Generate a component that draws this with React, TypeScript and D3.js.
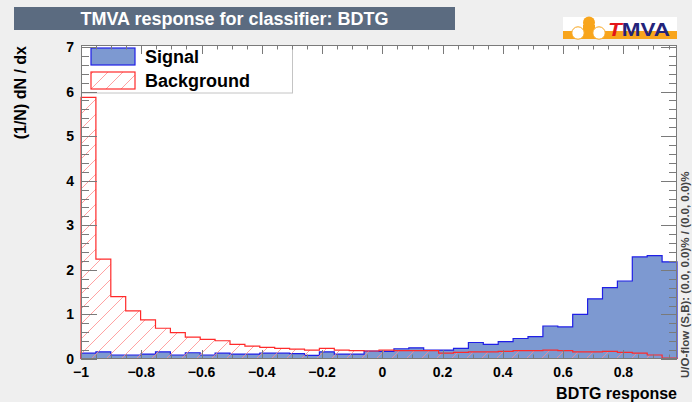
import React from "react";
import * as d3 from "d3";

// BDTG classifier response, 40 bins, normalised (1/N) dN/dx
const xMin = -1;
const xMax = 0.978;
const nBins = 40;

const signalValues = [
  0.13, 0.16, 0.09, 0.09, 0.11, 0.16, 0.09, 0.14, 0.09, 0.13,
  0.11, 0.11, 0.13, 0.13, 0.12, 0.08, 0.16, 0.11, 0.11, 0.18,
  0.17, 0.23, 0.25, 0.20, 0.20, 0.24, 0.37, 0.33, 0.39, 0.46,
  0.50, 0.74, 0.72, 1.00, 1.35, 1.60, 1.75, 2.29, 2.32, 2.18,
];

const backgroundValues = [
  5.87, 2.24, 1.40, 1.08, 0.88, 0.69, 0.59, 0.49, 0.44, 0.41,
  0.33, 0.29, 0.26, 0.24, 0.22, 0.20, 0.24, 0.20, 0.19, 0.18,
  0.20, 0.19, 0.19, 0.19, 0.13, 0.15, 0.16, 0.16, 0.17, 0.19,
  0.19, 0.20, 0.19, 0.16, 0.16, 0.17, 0.15, 0.13, 0.09, 0.02,
];

const xTickValues = [-1, -0.8, -0.6, -0.4, -0.2, 0, 0.2, 0.4, 0.6, 0.8];
const xTickLabels = ["\u22121", "\u22120.8", "\u22120.6", "\u22120.4", "\u22120.2", "0", "0.2", "0.4", "0.6", "0.8"];
const yTickValues = [0, 1, 2, 3, 4, 5, 6, 7];
const yTickLabels = ["0", "1", "2", "3", "4", "5", "6", "7"];

const legendLabels = ["Signal", "Background"];
const titleText = "TMVA response for classifier: BDTG";
const xTitle = "BDTG response";
const yTitle = "(1/N) dN / dx";
const flowText = "U/O-flow (S,B): (0.0, 0.0)% / (0.0, 0.0)%";

const W = 692;
const H = 402;
const frame = { left: 81, right: 677, top: 45, bottom: 359 };
const yMax = 7.045;

const FONT = "'Liberation Sans', Arial, Helvetica, sans-serif";
const SIG_FILL = "#7d99d1";
const SIG_LINE = "#1f1fe6";
const BKG_LINE = "#ff2a2a";
const FRAME = "#7a7a7a";
const LOGO_ORANGE = "#f8a51c";

export default function App() {
  const x = d3.scaleLinear().domain([xMin, xMax]).range([frame.left, frame.right]);
  const y = d3.scaleLinear().domain([0, yMax]).range([frame.bottom, frame.top]);
  const binW = (xMax - xMin) / nBins;

  const stepPoints = (vals: number[]) => {
    const pts: [number, number][] = [[xMin, 0]];
    vals.forEach((v, i) => {
      pts.push([xMin + i * binW, v]);
      pts.push([xMin + (i + 1) * binW, v]);
    });
    pts.push([xMax, 0]);
    return pts;
  };
  const line = d3
    .line<[number, number]>()
    .x((d) => x(d[0]))
    .y((d) => y(d[1]));

  const sigPath = line(stepPoints(signalValues)) as string;
  const bkgPath = line(stepPoints(backgroundValues)) as string;

  // minor ticks
  const xMinor = d3.range(-1, xMax + 1e-9, 0.05).map((v) => +v.toFixed(3));
  const yMinor = d3.range(0, yMax + 1e-9, 0.2).map((v) => +v.toFixed(3));

  return (
    <svg
      width={W}
      height={H}
      style={{ position: "absolute", left: 0, top: 0, fontFamily: FONT }}
    >
      <defs>
        <pattern id="hatch" patternUnits="userSpaceOnUse" width={15} height={15}>
          <line x1={0} y1={15} x2={15} y2={0} stroke="#ff8a8a" strokeWidth={0.8} />
          <line x1={-1} y1={1} x2={1} y2={-1} stroke="#ff8a8a" strokeWidth={0.8} />
          <line x1={14} y1={16} x2={16} y2={14} stroke="#ff8a8a" strokeWidth={0.8} />
        </pattern>
      </defs>

      <rect x={0} y={0} width={W} height={H} fill="#efefef" />

      {/* title banner */}
      <rect x={14} y={7} width={441} height={23} fill="#5b6b80" />
      <text x={234.5} y={25} textAnchor="middle" fill="#ffffff" fontWeight="bold" fontSize={18}>
        {titleText}
      </text>

      {/* TMVA logo */}
      <g>
        <rect x={563} y={17} width={114} height={22} fill="#ffffff" />
        <rect x={563} y={31} width={114} height={8} fill={LOGO_ORANGE} />
        <circle cx={589} cy={22.5} r={6} fill={LOGO_ORANGE} />
        <rect x={583} y={25} width={12} height={7} fill={LOGO_ORANGE} />
        <circle cx={578} cy={33} r={6.2} fill="#ffffff" stroke={LOGO_ORANGE} strokeWidth={1} />
        <circle cx={599} cy={33} r={6.2} fill="#ffffff" stroke={LOGO_ORANGE} strokeWidth={1} />
        <text x={608} y={36} fontSize={19} fontWeight="bold" textLength={62} lengthAdjust="spacingAndGlyphs">
          <tspan fill="#e3151a" fontStyle="italic">T</tspan>
          <tspan fill="#23237a">MVA</tspan>
        </text>
      </g>

      {/* plot area */}
      <rect
        x={frame.left}
        y={frame.top}
        width={frame.right - frame.left}
        height={frame.bottom - frame.top}
        fill="#ffffff"
      />

      {/* histograms */}
      <path d={sigPath} fill={SIG_FILL} stroke="none" />
      <path d={sigPath} fill="none" stroke={SIG_LINE} strokeWidth={1.2} />
      <path d={bkgPath} fill="url(#hatch)" stroke="none" />
      <path d={bkgPath} fill="none" stroke={BKG_LINE} strokeWidth={1.2} />

      {/* legend */}
      <rect x={81.5} y={45.5} width={211} height={47.5} fill="#ffffff" stroke="#c4c4c4" strokeWidth={1} />
      <rect x={91} y={48} width={44} height={17} fill={SIG_FILL} stroke={SIG_LINE} strokeWidth={1.2} />
      <rect x={91} y={72} width={44} height={17} fill="url(#hatch)" stroke={BKG_LINE} strokeWidth={1.2} />
      <text x={145} y={63} fontSize={18} fontWeight="bold" fill="#000">
        {legendLabels[0]}
      </text>
      <text x={145} y={87} fontSize={18} fontWeight="bold" fill="#000">
        {legendLabels[1]}
      </text>

      {/* frame */}
      <rect
        x={frame.left + 0.5}
        y={frame.top + 0.5}
        width={frame.right - frame.left - 1}
        height={frame.bottom - frame.top - 1}
        fill="none"
        stroke={FRAME}
        strokeWidth={1}
      />

      {/* x ticks, bottom and top */}
      {xMinor.map((v, i) => {
        const major = xTickValues.some((t) => Math.abs(t - v) < 1e-6);
        const len = major ? 9 : 4.5;
        const px = Math.round(x(v)) + 0.5;
        return (
          <g key={"xt" + i}>
            <line x1={px} x2={px} y1={frame.bottom} y2={frame.bottom - len} stroke={FRAME} />
            <line x1={px} x2={px} y1={frame.top} y2={frame.top + len} stroke={FRAME} />
          </g>
        );
      })}

      {/* y ticks, left and right */}
      {yMinor.map((v, i) => {
        const major = yTickValues.some((t) => Math.abs(t - v) < 1e-6);
        const len = major ? 16 : 8;
        const py = Math.round(y(v)) + 0.5;
        return (
          <g key={"yt" + i}>
            <line x1={frame.left} x2={frame.left + len} y1={py} y2={py} stroke={FRAME} />
            <line x1={frame.right} x2={frame.right - len} y1={py} y2={py} stroke={FRAME} />
          </g>
        );
      })}

      {/* tick labels */}
      {xTickValues.map((v, i) => (
        <text key={"xl" + i} x={x(v)} y={377} textAnchor="middle" fontSize={14} fontWeight="bold" fill="#000">
          {xTickLabels[i]}
        </text>
      ))}
      {yTickValues.map((v, i) => (
        <text key={"yl" + i} x={74} y={y(v) + 5} textAnchor="end" fontSize={14} fontWeight="bold" fill="#000">
          {yTickLabels[i]}
        </text>
      ))}

      {/* axis titles */}
      <text x={677} y={399} textAnchor="end" fontSize={16} fontWeight="bold" fill="#000">
        {xTitle}
      </text>
      <text
        transform="translate(26,46) rotate(-90)"
        textAnchor="end"
        fontSize={16}
        fontWeight="bold"
        fill="#000"
      >
        {yTitle}
      </text>

      {/* under/overflow note */}
      <text
        transform="translate(688.5,378) rotate(-90)"
        textAnchor="start"
        fontSize={11.5}
        fontWeight="bold"
        fill="#444"
      >
        {flowText}
      </text>
    </svg>
  );
}
